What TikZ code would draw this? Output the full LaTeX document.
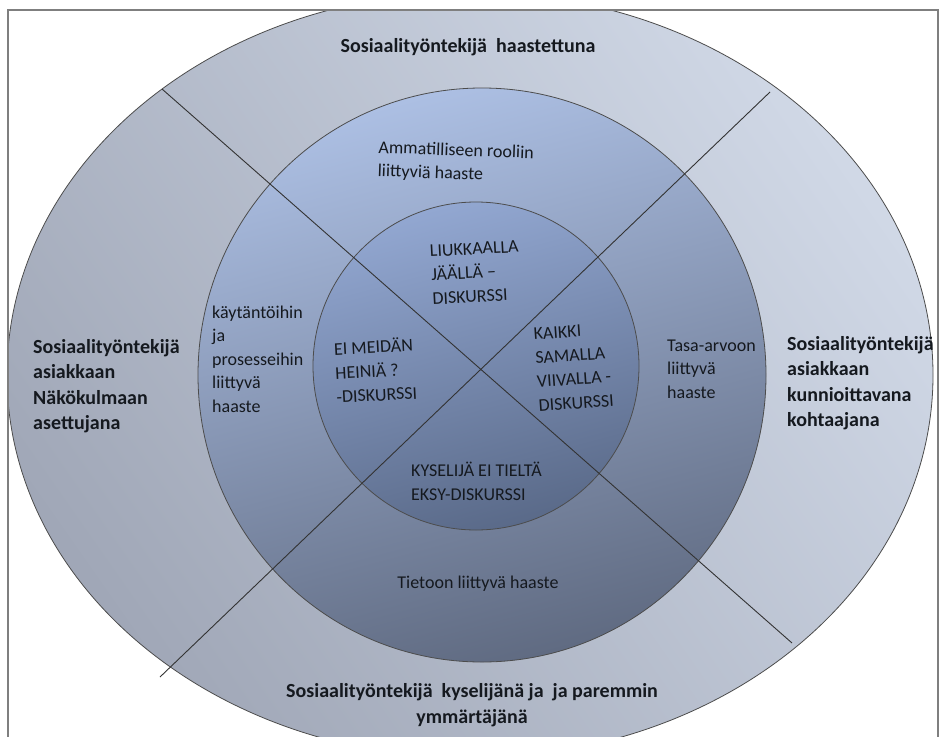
\documentclass[tikz,border=0pt]{standalone}
\usepackage{fontspec}
\setmainfont{Carlito}
\definecolor{outerdark}{HTML}{A0A7B7}
\definecolor{outerlight}{HTML}{D0D8E6}
\definecolor{midtop}{HTML}{ACBFE3}
\definecolor{midbot}{HTML}{606B82}
\definecolor{innertop}{HTML}{92A7D1}
\definecolor{innerbot}{HTML}{5A6A89}
\definecolor{framegray}{HTML}{7F7F7F}
\definecolor{txt}{HTML}{15191F}
\begin{document}
\begin{tikzpicture}[x=1pt,y=-1pt,
  ringline/.style={draw=black!70, line width=0.8pt},
  divline/.style={draw=black!80, line width=0.9pt},
  outerlbl/.style={font=\fontsize{20}{25.5}\selectfont\bfseries, text=txt, inner sep=0pt, align=left},
  midlbl/.style={font=\fontsize{18}{23.5}\selectfont, text=txt, inner sep=0pt, align=left},
  innerlbl/.style={font=\fontsize{18}{24}\selectfont, text=txt, inner sep=0pt, align=left}]
\useasboundingbox (0,0) rectangle (941,736);
\begin{scope}
  \clip (8,10) rectangle (938,745);
  \shade[top color=outerlight, bottom color=outerdark, shading angle=-55]
    (470,375) ellipse [x radius=463, y radius=383];
  \draw[ringline] (470,375) ellipse [x radius=463, y radius=383];
  \shade[top color=midtop, bottom color=midbot, shading angle=15]
    (482,375) ellipse [x radius=284, y radius=287];
  \draw[ringline] (482,375) ellipse [x radius=284, y radius=287];
  \shade[top color=innertop, bottom color=innerbot, shading angle=15]
    (476,366) ellipse [x radius=163, y radius=164];
  \draw[ringline] (476,366) ellipse [x radius=163, y radius=164];
  \coordinate (d1a) at (162,89);
  \coordinate (d1b) at (792,643);
  \coordinate (d2a) at (160,677);
  \coordinate (d2b) at (770,92);
  \draw[divline] (d1a) -- (d1b);
  \draw[divline] (d2a) -- (d2b);
\end{scope}
\coordinate (f1) at (8,740);
\coordinate (f2) at (8,10);
\coordinate (f3) at (938,10);
\coordinate (f4) at (938,740);
\draw[framegray, line width=1.4pt] (f1) -- (f2) -- (f3) -- (f4);

% outer labels
\node[outerlbl, anchor=center] (top) at (468,47) {Sosiaalityöntekijä\ \ haastettuna};
\node[outerlbl, anchor=west] (left) at (33,386) {Sosiaalityöntekijä\\asiakkaan\\Näkökulmaan\\asettujana};
\node[outerlbl, anchor=west] (right) at (787,383) {Sosiaalityöntekijä\\asiakkaan\\kunnioittavana\\kohtaajana};
\node[outerlbl, align=center, anchor=center] (bottom) at (472,705) {Sosiaalityöntekijä\ \ kyselijänä ja\ \ ja paremmin\\ymmärtäjänä};

% middle ring labels
\node[midlbl, anchor=west, rotate=-2] (mtop) at (378,160) {Ammatilliseen rooliin\\liittyviä haaste};
\node[midlbl, anchor=west] (mleft) at (212,359) {käytäntöihin\\ja\\prosesseihin\\liittyvä\\haaste};
\node[midlbl, anchor=west] (mright) at (667,369) {Tasa-arvoon\\liittyvä\\haaste};
\node[midlbl, anchor=center] (mbottom) at (478,584) {Tietoon liittyvä haaste};

% inner labels
\node[innerlbl, anchor=west, rotate=3] (itop) at (431,275) {LIUKKAALLA\\JÄÄLLÄ –\\DISKURSSI};
\node[innerlbl, anchor=west, rotate=3] (ileft) at (335,372) {EI MEIDÄN\\HEINIÄ ?\\-DISKURSSI};
\node[innerlbl, anchor=west, rotate=4] (iright) at (536,370) {KAIKKI\\SAMALLA\\VIIVALLA -\\DISKURSSI};
\node[innerlbl, anchor=west] (ibottom) at (411,481) {KYSELIJÄ EI TIELTÄ\\EKSY-DISKURSSI};
\end{tikzpicture}
\end{document}
